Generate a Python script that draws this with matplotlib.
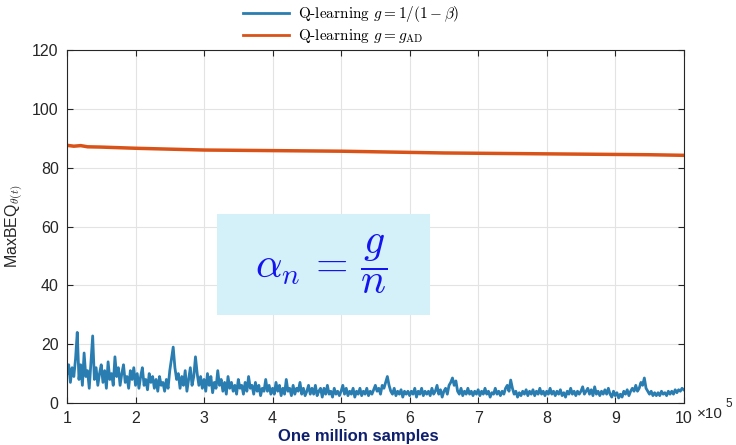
import numpy as np
import matplotlib
matplotlib.use('Agg')
from matplotlib import pyplot as plt
from matplotlib.ticker import FuncFormatter

plt.rcParams['font.family'] = ['Liberation Sans', 'DejaVu Sans']
plt.rcParams['mathtext.fontset'] = 'cm'

# blue series: g = 1/(1-beta), sampled every 2500 steps from 1e5 to 1e6
x_blue = np.arange(100000, 1000001, 2500)
y_blue = [10, 13, 7, 12, 9, 15, 24, 8, 13, 6, 17, 9, 11, 5, 14, 22.8, 8, 12, 6, 10,
          13, 7, 11, 5, 14, 8, 10, 6, 15.7, 9, 12, 6, 10, 13, 7, 9, 5, 11, 8, 12,
          6, 10, 5, 9, 12, 6, 8, 4.5, 10, 7, 9, 5, 8, 4, 9, 6, 7, 4, 8, 5,
          11, 15, 19, 12, 8, 10, 5, 9, 6, 11, 4, 8, 12, 6, 9, 15.7, 10, 6, 9, 5,
          8, 4, 10, 6, 9, 3.5, 7, 5, 11, 6, 8, 4, 7, 3, 9, 5, 7, 4, 6, 3,
          8, 5, 6, 3, 7, 4, 9, 5, 6, 3, 7, 4, 6, 2.5, 5, 4, 8, 4, 6, 3,
          5, 3, 7, 4, 6, 2.5, 5, 3, 8, 4, 5, 2.5, 6, 3, 5, 4, 7, 3, 5, 2.5,
          4, 6, 3, 5, 3, 6, 2.5, 4, 5, 2, 5, 3, 6, 3, 4, 2, 5, 3, 4, 2.5,
          4, 6, 3, 5, 2.5, 4, 3, 5, 2, 4, 3, 5, 2.5, 4, 3, 5, 2.5, 4, 3, 4.5,
          6, 4, 5, 3, 6, 5, 7, 9, 6, 4, 3, 5, 2.5, 4, 3, 4.5, 2, 4, 3, 4,
          2.5, 4, 3, 5, 2, 4, 3, 5, 2.5, 4, 3, 4, 2.5, 5, 3, 4, 6, 3, 4.5, 2,
          4, 5, 3, 6, 7, 8.5, 6, 7.5, 4, 3, 5, 2.5, 4, 3, 5, 3, 4, 2.5, 4, 3,
          4.5, 2.5, 4, 3, 5, 3, 4, 2, 3.5, 3, 5, 3, 4, 2.5, 4, 3, 5, 6, 4, 7.8,
          5, 3, 4, 2, 3.5, 2.5, 4, 3, 4.5, 2.5, 4, 3, 4.5, 2.5, 4, 3, 5, 3, 4, 2.5,
          4, 3, 5, 3, 4, 2.5, 4, 3, 4.5, 2.5, 3.5, 2, 4, 3, 5, 3, 4, 2.5, 4, 3,
          4, 5.5, 3, 4, 5, 3, 4.5, 2.5, 5.5, 3, 4, 2.5, 4, 3, 4.5, 3, 5, 3, 2, 4,
          2.5, 3.5, 1.7, 3, 2, 4, 3, 4.5, 2.5, 4, 5, 4, 6, 4, 5, 7, 6, 8.5, 5, 4,
          3, 4, 2.5, 3.5, 2.5, 3.5, 2.5, 4, 3, 3.5, 2.5, 4, 3, 4, 3, 4.5, 3.5, 4.5, 4, 5,
          4.5]

# orange series: g = g_AD
x_orange = [100000, 110000, 120000, 130000, 150000, 200000, 250000, 300000, 350000,
            400000, 450000, 500000, 550000, 600000, 650000, 700000, 750000,
            800000, 850000, 900000, 950000, 1000000]
y_orange = [87.6, 87.3, 87.5, 87.1, 87.0, 86.6, 86.3, 86.0, 85.9, 85.8, 85.7, 85.6,
            85.4, 85.2, 85.0, 84.9, 84.8, 84.7, 84.6, 84.5, 84.4, 84.2]

xticks = np.arange(100000, 1000001, 100000)
yticks = [0, 20, 40, 60, 80, 100, 120]

fig = plt.figure(figsize=(7.36, 4.45), dpi=100)
ax = fig.add_axes([0.091, 0.0944, 0.838, 0.7932])

l1, = ax.plot(x_blue, y_blue, color='#2a7db0', lw=2.0)
l2, = ax.plot(x_orange, y_orange, color='#d95319', lw=2.5)

ax.set_xlim(100000, 1000000)
ax.set_ylim(0, 120)
ax.set_xticks(xticks)
ax.set_yticks(yticks)
ax.xaxis.set_major_formatter(FuncFormatter(lambda v, p: '%d' % round(v / 1e5)))
ax.grid(True, color='#e3e3e3', lw=0.8)
ax.set_axisbelow(True)
ax.tick_params(direction='in', top=True, right=True, labelsize=11.5,
               colors='#262626', length=4, pad=6)
for s in ax.spines.values():
    s.set_color('#262626')
    s.set_linewidth(0.8)

# x scale factor next to the last tick label
ax.text(1.021, -0.03, '×10', transform=ax.transAxes, fontsize=11,
        color='#262626', ha='left', va='center')
ax.text(1.068, -0.004, '5', transform=ax.transAxes, fontsize=8.5,
        color='#262626', ha='left', va='center')

ax.set_xlabel('One million samples', fontsize=12, fontweight='bold',
              color='#0e1f6e', labelpad=2)
ax.xaxis.set_label_coords(0.473, -0.075)
ax.set_ylabel(r'MaxBEQ$_{\theta(t)}$', fontsize=11.5, color='#262626')

# formula box
ax.fill_between([318800, 629500], 30, 64.2, color='#d4f0f8', lw=0, zorder=3)
ax.text(471000, 47, r'$\alpha_n\,=\,\dfrac{g}{n}$', fontsize=30, color='#1414f0',
        ha='center', va='center', zorder=4)

leg = fig.legend([l1, l2], [r'Q-learning $g = 1/(1-\beta)$', r'Q-learning $g = g_{\mathrm{AD}}$'],
                 loc='upper center', bbox_to_anchor=(0.477, 1.022), frameon=False,
                 handlelength=3.0, handletextpad=0.6, labelspacing=0.2,
                 prop={'family': 'cmr10', 'size': 11})
for ln in leg.get_lines():
    ln.set_linewidth(2)

fig.savefig('out.png', dpi=100)
